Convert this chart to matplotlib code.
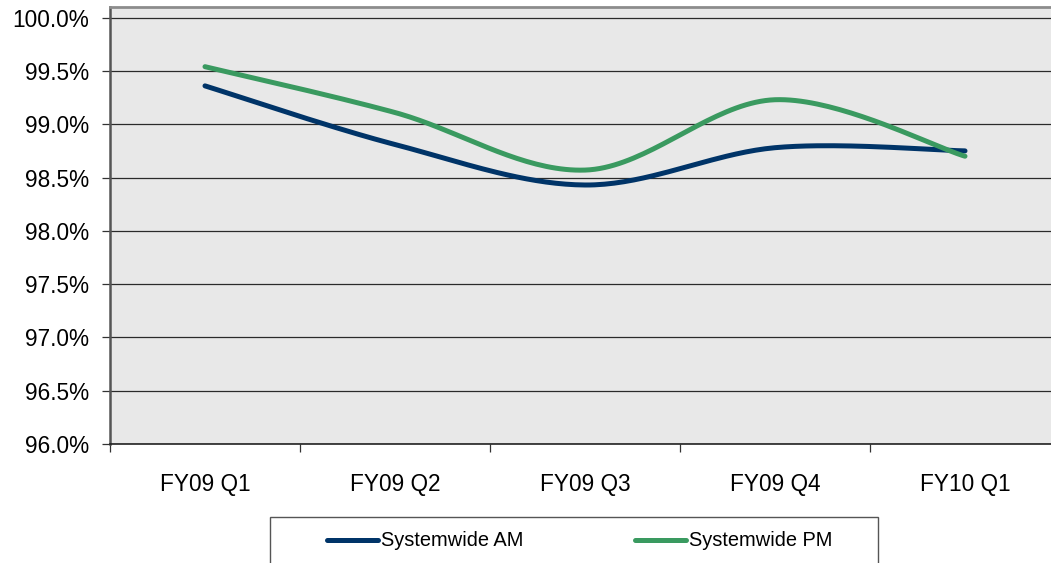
import numpy as np
import matplotlib
matplotlib.use("Agg")
import matplotlib.pyplot as plt
from matplotlib.patches import Rectangle

quarters = ["FY09 Q1", "FY09 Q2", "FY09 Q3", "FY09 Q4", "FY10 Q1"]
am_values = [99.36, 98.81, 98.43, 98.78, 98.75]
pm_values = [99.54, 99.11, 98.57, 99.23, 98.70]
y_ticks = [96.0, 96.5, 97.0, 97.5, 98.0, 98.5, 99.0, 99.5, 100.0]

W, H = 1051, 563


def smooth(xs, ys, n=40):
	# excel style smoothed line (catmull-rom as bezier)
	px = np.array(xs, dtype=float)
	py = np.array(ys, dtype=float)
	px = np.concatenate([[px[0]], px, [px[-1]]])
	py = np.concatenate([[py[0]], py, [py[-1]]])
	outx, outy = [], []
	t = np.linspace(0, 1, n)
	for i in range(1, len(px) - 2):
		p0 = np.array([px[i], py[i]])
		p3 = np.array([px[i + 1], py[i + 1]])
		p1 = p0 + (np.array([px[i + 1], py[i + 1]]) - np.array([px[i - 1], py[i - 1]])) / 6
		p2 = p3 - (np.array([px[i + 2], py[i + 2]]) - np.array([px[i], py[i]])) / 6
		b = ((1 - t) ** 3)[:, None] * p0 + (3 * (1 - t) ** 2 * t)[:, None] * p1 \
			+ (3 * (1 - t) * t ** 2)[:, None] * p2 + (t ** 3)[:, None] * p3
		outx.extend(b[:, 0])
		outy.extend(b[:, 1])
	return outx, outy


plt.rcParams['font.family'] = ['Liberation Sans', 'DejaVu Sans']

fig = plt.figure(figsize=(W / 100, H / 100), dpi=100)
ax = fig.add_axes([110 / W, 1 - 444 / H, 950 / W, 437 / H])
ax.set_facecolor("#e8e8e8")

x = np.arange(len(quarters))
sx, sy = smooth(x, am_values)
ax.plot(sx, sy, color="#003468", lw=3.6, solid_capstyle="round", label="Systemwide AM")
sx, sy = smooth(x, pm_values)
ax.plot(sx, sy, color="#3a9a60", lw=3.6, solid_capstyle="round", label="Systemwide PM")

ax.set_xlim(-0.5, 4.5)
ax.set_ylim(96.0, 100.1)

ax.set_yticks(y_ticks)
ax.set_yticklabels(["%.1f%%" % v for v in y_ticks], fontsize=16.3)
ax.tick_params(axis="y", direction="out", length=6, width=0.9, pad=9, color="#333333")
ax.yaxis.grid(True, color="#2a2a2a", lw=0.9)
ax.set_axisbelow(True)

ax.set_xticks(np.arange(-0.5, 5.0, 1.0))
ax.set_xticklabels([])
ax.set_xticks(x, minor=True)
ax.set_xticklabels(quarters, minor=True, fontsize=16.3)
ax.tick_params(axis="x", which="major", direction="out", length=6, width=0.9, color="#333333")
ax.tick_params(axis="x", which="minor", length=0, pad=21)

ax.spines["top"].set_color("#8c8c8c")
ax.spines["top"].set_linewidth(2)
ax.spines["right"].set_color("#8c8c8c")
ax.spines["left"].set_color("#555555")
ax.spines["left"].set_linewidth(1.8)
ax.spines["bottom"].set_color("#222222")
ax.spines["bottom"].set_linewidth(1.2)

# legend box
fig.patches.append(Rectangle((270 / W, -0.05), 608 / W, 1 - 517 / H + 0.05,
	transform=fig.transFigure, facecolor="white", edgecolor="#555555", lw=1.0, zorder=0))
handles, labels = ax.get_legend_handles_labels()
fig.legend(handles, labels, frameon=False, ncol=2, loc="center left",
	bbox_to_anchor=(327 / W, 1 - 541 / H), fontsize=14.4, handlelength=2.55,
	handletextpad=0.15, columnspacing=5.6, borderpad=0, borderaxespad=0)

fig.savefig("out.png", dpi=100)
